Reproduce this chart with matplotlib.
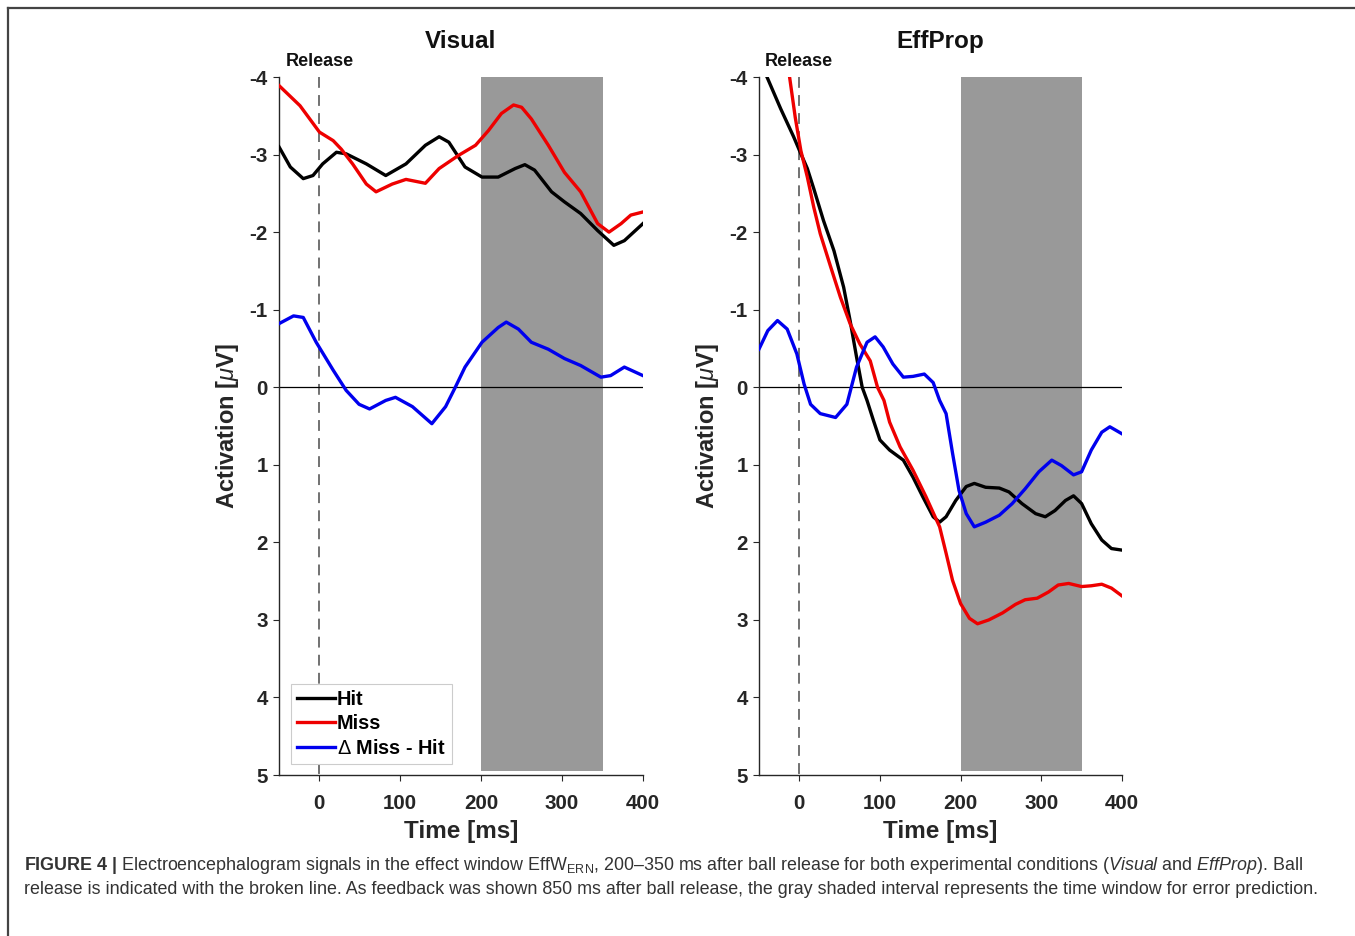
import matplotlib
matplotlib.use("Agg")
import matplotlib.pyplot as plt
from matplotlib.lines import Line2D

plt.rcParams['font.family'] = ['Liberation Sans', 'DejaVu Sans']
plt.rcParams['axes.unicode_minus'] = False
plt.rcParams['mathtext.fontset'] = 'custom'
plt.rcParams['mathtext.rm'] = 'Liberation Sans'
plt.rcParams['mathtext.it'] = 'Liberation Sans:italic'
plt.rcParams['mathtext.bf'] = 'Liberation Sans:bold'

# --- data (time in ms, activation in uV) ---
vis_hit_t = [-50, -36, -20, -8, 4, 21, 33, 58, 82, 107, 131, 148, 160, 180, 201,
             221, 242, 254, 266, 287, 303, 323, 344, 364, 377, 400]
vis_hit_v = [-3.10, -2.84, -2.69, -2.73, -2.88, -3.03, -3.01, -2.88, -2.73, -2.88,
             -3.12, -3.23, -3.16, -2.84, -2.71, -2.71, -2.82, -2.87, -2.80, -2.52,
             -2.39, -2.24, -2.02, -1.83, -1.89, -2.11]

vis_miss_t = [-50, -24, 0, 17, 27, 41, 58, 70, 90, 107, 131, 148, 172, 193, 209,
              225, 240, 250, 262, 283, 303, 323, 344, 358, 373, 385, 400]
vis_miss_v = [-3.89, -3.63, -3.29, -3.18, -3.07, -2.88, -2.62, -2.52, -2.62, -2.68,
              -2.63, -2.82, -2.99, -3.12, -3.31, -3.53, -3.64, -3.61, -3.46, -3.12,
              -2.77, -2.52, -2.11, -2.00, -2.11, -2.22, -2.26]

vis_diff_t = [-50, -32, -20, -4, 17, 33, 49, 62, 82, 94, 115, 139, 156, 168, 180,
              201, 221, 231, 246, 262, 283, 303, 323, 348, 360, 377, 400]
vis_diff_v = [-0.82, -0.92, -0.90, -0.58, -0.22, 0.04, 0.22, 0.28, 0.17, 0.13, 0.25,
              0.47, 0.25, 0.00, -0.26, -0.58, -0.77, -0.84, -0.75, -0.58, -0.49,
              -0.37, -0.28, -0.13, -0.15, -0.26, -0.15]

eff_hit_t = [-50, -40, -23, -7, 2, 10, 18, 30, 43, 55, 63, 71, 78, 84, 92, 100, 112,
             129, 141, 153, 166, 174, 182, 194, 207, 217, 231, 248, 260, 276, 293,
             305, 317, 330, 340, 350, 362, 375, 387, 400]
eff_hit_v = [-4.19, -4.00, -3.59, -3.23, -3.01, -2.82, -2.56, -2.15, -1.76, -1.29,
             -0.86, -0.39, 0.00, 0.17, 0.43, 0.68, 0.81, 0.94, 1.16, 1.41, 1.67, 1.74,
             1.67, 1.46, 1.28, 1.24, 1.29, 1.30, 1.35, 1.50, 1.63, 1.67, 1.59, 1.46,
             1.40, 1.50, 1.76, 1.97, 2.08, 2.10]

eff_miss_t = [-15, -12, -5, 2, 10, 18, 26, 39, 51, 63, 75, 88, 97, 105, 112, 125,
              141, 157, 174, 182, 190, 200, 211, 221, 235, 252, 268, 280, 295, 309,
              321, 334, 350, 362, 375, 387, 400]
eff_miss_v = [-4.24, -4.00, -3.48, -3.05, -2.71, -2.32, -1.98, -1.55, -1.16, -0.82,
              -0.56, -0.34, 0.00, 0.17, 0.45, 0.77, 1.07, 1.41, 1.80, 2.14, 2.49, 2.79,
              2.98, 3.05, 3.00, 2.91, 2.80, 2.74, 2.72, 2.64, 2.55, 2.53, 2.57, 2.56,
              2.54, 2.59, 2.69]

eff_diff_t = [-50, -39, -27, -15, -3, 6, 14, 26, 45, 59, 71, 84, 94, 104, 116, 129,
              141, 155, 166, 174, 182, 190, 198, 207, 217, 231, 248, 264, 280, 297,
              313, 325, 340, 350, 362, 375, 385, 400]
eff_diff_v = [-0.49, -0.73, -0.86, -0.75, -0.43, -0.04, 0.22, 0.34, 0.39, 0.22, -0.26,
              -0.58, -0.65, -0.52, -0.30, -0.13, -0.14, -0.17, -0.06, 0.17, 0.34, 0.85,
              1.33, 1.63, 1.80, 1.74, 1.65, 1.50, 1.31, 1.09, 0.94, 1.01, 1.13, 1.09,
              0.81, 0.58, 0.51, 0.60]

window = (200, 350)
x_ticks = [0, 100, 200, 300, 400]
y_ticks = [-4, -3, -2, -1, 0, 1, 2, 3, 4, 5]
labels = ['Hit', 'Miss', r'$\Delta$ Miss - Hit']

panels = [
    ('Visual', vis_hit_t, vis_hit_v, vis_miss_t, vis_miss_v, vis_diff_t, vis_diff_v),
    ('EffProp', eff_hit_t, eff_hit_v, eff_miss_t, eff_miss_v, eff_diff_t, eff_diff_v),
]

fig = plt.figure(figsize=(13.55, 9.36), dpi=100)
ax_pos = [[0.2059, 0.1720, 0.2686, 0.7457], [0.5601, 0.1720, 0.2679, 0.7457]]

dark = '#262626'
for i, (name, ht, hv, mt, mv, dt, dv) in enumerate(panels):
    ax = fig.add_axes(ax_pos[i])
    ax.fill_between(window, -4, 4.95, color='#999999', lw=0, zorder=1)
    ax.plot([0, 0], [-4, 5], ls=(0, (6, 4)), color='#666666', lw=1.3, zorder=2)
    ax.plot([-50, 400], [0, 0], color='black', lw=0.9, zorder=2)
    l1, = ax.plot(ht, hv, color='black', lw=2.4, zorder=3)
    l2, = ax.plot(mt, mv, color='#ee0000', lw=2.4, zorder=3)
    l3, = ax.plot(dt, dv, color='#0000ee', lw=2.4, zorder=3)

    ax.set_xlim(-50, 400)
    ax.set_ylim(5, -4)
    ax.set_xticks(x_ticks)
    ax.set_yticks(y_ticks)
    for s in ['top', 'right']:
        ax.spines[s].set_visible(False)
    for s in ['left', 'bottom']:
        ax.spines[s].set_color(dark)
        ax.spines[s].set_linewidth(1.0)
    ax.tick_params(direction='out', length=4, width=0.8, color=dark, labelcolor=dark,
                   labelsize=14.8)
    ax.tick_params(axis='x', pad=10)
    ax.tick_params(axis='y', pad=4)
    for lab in ax.get_xticklabels() + ax.get_yticklabels():
        lab.set_fontweight('bold')

    ax.set_title(name, fontsize=17.5, fontweight='bold', pad=21, color='#111111')
    ax.set_xlabel('Time [ms]', fontsize=17.5, fontweight='bold', color=dark, labelpad=5)
    ax.set_ylabel(r'Activation [$\mu$V]', fontsize=17, fontweight='bold', color=dark,
                  labelpad=6)
    ax.annotate('Release', xy=(0, -4), xytext=(0, 5), textcoords='offset points',
                ha='center', va='bottom', fontsize=13, fontweight='bold',
                color='#111111', annotation_clip=False)

    if i == 0:
        leg = ax.legend([l1, l2, l3], labels, loc='lower left',
                        bbox_to_anchor=(0.033, 0.016), borderaxespad=0,
                        prop={'weight': 'bold', 'size': 14.3}, handlelength=1.9,
                        handletextpad=0.12, labelspacing=0.28, borderpad=0.3,
                        fancybox=False, framealpha=1, edgecolor='#cccccc')
        leg.get_frame().set_linewidth(0.8)

# border lines of the figure panel
fig.add_artist(Line2D([8 / 1355, 8 / 1355], [0, 1 - 8 / 936], color='#444444', lw=1.6))
fig.add_artist(Line2D([8 / 1355, 1], [1 - 8 / 936, 1 - 8 / 936], color='#444444', lw=1.6))

cap1 = (r"$\mathbf{FIGURE\ 4\ |}$ Electroencephalogram signals in the effect window "
        r"EffW$_{\mathrm{ERN}}$, 200–350 ms after ball release for both experimental "
        r"conditions ($\mathit{Visual}$ and $\mathit{EffProp}$). Ball")
cap2 = ("release is indicated with the broken line. As feedback was shown 850 ms after "
        "ball release, the gray shaded interval represents the time window for error "
        "prediction.")
fig.text(24 / 1355, 1 - 866 / 936, cap1, fontsize=12.9, color='#333333', va='center')
fig.text(24 / 1355, 1 - 890 / 936, cap2, fontsize=12.9, color='#333333', va='center')

fig.savefig('out.png', dpi=100)
